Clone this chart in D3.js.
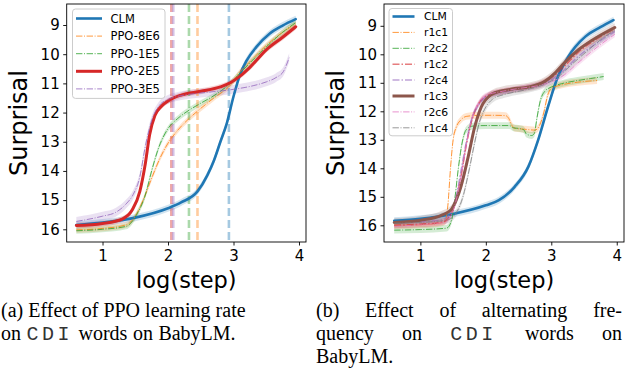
<!DOCTYPE html>
<html>
<head>
<meta charset="utf-8">
<script src="https://cdn.jsdelivr.net/npm/d3@7/dist/d3.min.js"></script>
<style>
  body { margin: 0; background: #fff; }
  svg { display: block; }
</style>
</head>
<body>
<svg id="fig" width="625" height="375"></svg>
<script>
// panel (a): effect of PPO learning rate -- log(step) vs surprisal
const stepA_clm = [0.6, 1.0, 1.5, 2.0, 2.2, 2.45, 2.6, 2.7, 2.8, 2.9, 3.0, 3.1, 3.2, 3.35, 3.55, 3.75, 3.95];
const surpA_clm = [15.85, 15.77, 15.6, 15.28, 15.08, 14.7, 14.15, 13.65, 13.0, 12.35, 11.45, 10.7, 10.22, 9.75, 9.3, 9.02, 8.8];

const stepA_8e6 = [0.6, 1.0, 1.36, 1.5, 1.62, 1.75, 1.87, 2.0, 2.15, 2.3, 2.45, 2.7, 2.95, 3.1, 3.25, 3.5, 3.75, 3.95];
const surpA_8e6 = [16.02, 15.97, 15.85, 15.55, 15.0, 14.25, 13.6, 13.05, 12.6, 12.25, 11.95, 11.5, 11.06, 10.6, 10.26, 9.7, 9.25, 8.96];

const stepA_1e5 = [0.6, 1.0, 1.36, 1.52, 1.65, 1.75, 1.85, 2.0, 2.15, 2.32, 2.5, 2.75, 2.95, 3.1, 3.25, 3.5, 3.75, 3.95];
const surpA_1e5 = [16.05, 16.0, 15.9, 15.5, 14.85, 14.0, 13.25, 12.55, 12.2, 11.92, 11.68, 11.35, 11.0, 10.65, 10.3, 9.75, 9.25, 8.92];

const stepA_2e5 = [0.6, 1.0, 1.3, 1.45, 1.57, 1.65, 1.72, 1.8, 1.9, 2.0, 2.2, 2.5, 2.8, 2.95, 3.1, 3.25, 3.5, 3.75, 3.95];
const surpA_2e5 = [15.87, 15.8, 15.65, 15.35, 14.7, 13.8, 12.75, 12.1, 11.78, 11.6, 11.4, 11.27, 11.12, 10.98, 10.75, 10.45, 9.85, 9.42, 9.06];

const stepA_3e5 = [0.6, 1.0, 1.2, 1.36, 1.47, 1.57, 1.65, 1.75, 1.87, 2.0, 2.2, 2.5, 2.95, 3.3, 3.5, 3.65, 3.76, 3.85];
const surpA_3e5 = [15.73, 15.55, 15.42, 15.13, 14.8, 14.2, 13.2, 12.27, 11.75, 11.55, 11.42, 11.33, 11.22, 11.08, 10.95, 10.8, 10.6, 10.12];

const namesA = ["CLM", "PPO-8E6", "PPO-1E5", "PPO-2E5", "PPO-3E5"];
const bandA = [0.12, 0.1, 0.1, 0.1, 0.15];
// converged step (log) per run, dashed verticals
const convStepA = [2.93, 2.45, 2.32, 2.05, 2.08];

// panel (b): effect of alternating frequency
const stepB_clm = [0.6, 1.0, 1.5, 2.0, 2.2, 2.44, 2.65, 2.8, 2.95, 3.1, 3.26, 3.52, 3.75, 3.95];
const surpB_clm = [15.84, 15.77, 15.6, 15.3, 15.12, 14.65, 13.94, 13.0, 11.84, 10.79, 10.08, 9.38, 9.05, 8.8];

const stepB_r1c1 = [0.6, 1.0, 1.3, 1.38, 1.42, 1.46, 1.5, 1.55, 1.62, 1.7, 1.9, 2.1, 2.3, 2.35, 2.4, 2.45, 2.6, 2.75, 2.82, 2.88, 2.95, 3.0, 3.15, 3.4, 3.7];
const surpB_r1c1 = [16.0, 15.98, 15.92, 15.85, 15.3, 14.0, 13.0, 12.55, 12.3, 12.18, 12.14, 12.14, 12.15, 12.25, 12.5, 12.6, 12.63, 12.66, 12.5, 12.1, 11.4, 11.2, 11.08, 10.98, 10.92];

const stepB_r2c2 = [0.6, 1.0, 1.4, 1.48, 1.53, 1.58, 1.63, 1.7, 1.8, 2.0, 2.2, 2.36, 2.42, 2.5, 2.58, 2.62, 2.7, 2.74, 2.78, 2.83, 2.9, 3.0, 3.16, 3.4, 3.6, 3.8];
const surpB_r2c2 = [16.17, 16.15, 16.1, 15.8, 15.0, 14.0, 13.2, 12.65, 12.52, 12.5, 12.5, 12.5, 12.58, 12.6, 12.65, 12.8, 12.85, 12.78, 12.25, 11.65, 11.3, 11.15, 11.03, 10.92, 10.85, 10.78];

const stepB_r1c2 = [0.6, 1.0, 1.35, 1.47, 1.55, 1.62, 1.7, 1.8, 1.9, 2.05, 2.25, 2.5, 2.8, 3.0, 3.2, 3.4, 3.7, 3.97];
const surpB_r1c2 = [16.0, 15.96, 15.88, 15.6, 15.05, 14.3, 13.2, 12.2, 11.7, 11.42, 11.3, 11.2, 11.05, 10.82, 10.42, 9.95, 9.45, 9.1];

const stepB_r2c4 = [0.6, 1.0, 1.35, 1.47, 1.55, 1.62, 1.7, 1.78, 1.88, 2.0, 2.25, 2.5, 2.8, 3.0, 3.2, 3.4, 3.7, 3.97];
const surpB_r2c4 = [15.92, 15.88, 15.8, 15.5, 14.95, 14.1, 13.1, 12.3, 11.8, 11.5, 11.33, 11.22, 11.08, 10.9, 10.55, 10.1, 9.6, 9.2];

const stepB_r1c3 = [0.6, 1.0, 1.32, 1.47, 1.55, 1.62, 1.73, 1.83, 1.93, 2.08, 2.25, 2.4, 2.65, 2.9, 3.06, 3.2, 3.41, 3.7, 3.97];
const surpB_r1c3 = [15.9, 15.82, 15.65, 15.45, 15.1, 14.64, 13.6, 12.55, 11.85, 11.42, 11.28, 11.22, 11.15, 10.95, 10.65, 10.3, 9.85, 9.4, 9.06];

const stepB_r2c6 = [0.6, 1.0, 1.35, 1.48, 1.56, 1.63, 1.7, 1.78, 1.88, 2.0, 2.25, 2.5, 2.8, 3.0, 3.2, 3.4, 3.7, 3.97];
const surpB_r2c6 = [16.03, 15.98, 15.9, 15.6, 15.0, 14.2, 13.2, 12.3, 11.75, 11.45, 11.3, 11.2, 11.1, 10.97, 10.72, 10.32, 9.75, 9.3];

const stepB_r1c4 = [0.6, 1.0, 1.4, 1.55, 1.65, 1.75, 1.82, 1.9, 2.0, 2.1, 2.3, 2.6, 2.9, 3.1, 3.3, 3.5, 3.75, 3.97];
const surpB_r1c4 = [15.93, 15.9, 15.82, 15.55, 15.0, 14.0, 13.2, 12.4, 11.85, 11.58, 11.4, 11.25, 11.05, 10.8, 10.38, 9.98, 9.5, 9.15];

const namesB = ["CLM", "r1c1", "r2c2", "r1c2", "r2c4", "r1c3", "r2c6", "r1c4"];
const bandB = [0.12, 0.12, 0.12, 0.1, 0.1, 0.15, 0.1, 0.12];

const yTicks = [9, 10, 11, 12, 13, 14, 15, 16];
const xTicks = [1, 2, 3, 4];

// ---- styles ----
const tab = {blue: "#1f77b4", orange: "#ff7f0e", green: "#2ca02c", red: "#d62728",
             purple: "#9467bd", brown: "#8c564b", pink: "#e377c2", gray: "#7f7f7f"};
const SOLID = {w: 2.6, dash: null, op: 1};
const THICK = {w: 3, dash: null, op: 1};
const DD1 = {w: 1, dash: "6.4,1.6,1,1.6", op: 0.8};
const DD2 = {w: 1.5, dash: "7,2,1.5,2", op: 0.6};

const zip = (xs, ys) => xs.map((x, i) => ({x: x, y: ys[i]}));

var seriesA = [
  {name: namesA[0], pts: zip(stepA_clm, surpA_clm), band: bandA[0], color: tab.blue, st: SOLID},
  {name: namesA[1], pts: zip(stepA_8e6, surpA_8e6), band: bandA[1], color: tab.orange, st: DD1},
  {name: namesA[2], pts: zip(stepA_1e5, surpA_1e5), band: bandA[2], color: tab.green, st: DD1},
  {name: namesA[3], pts: zip(stepA_2e5, surpA_2e5), band: bandA[3], color: tab.red, st: THICK},
  {name: namesA[4], pts: zip(stepA_3e5, surpA_3e5), band: bandA[4], color: tab.purple, st: DD1}
];
var seriesB = [
  {name: namesB[0], pts: zip(stepB_clm, surpB_clm), band: bandB[0], color: tab.blue, st: SOLID},
  {name: namesB[1], pts: zip(stepB_r1c1, surpB_r1c1), band: bandB[1], color: tab.orange, st: DD1},
  {name: namesB[2], pts: zip(stepB_r2c2, surpB_r2c2), band: bandB[2], color: tab.green, st: DD1},
  {name: namesB[3], pts: zip(stepB_r1c2, surpB_r1c2), band: bandB[3], color: tab.red, st: DD2},
  {name: namesB[4], pts: zip(stepB_r2c4, surpB_r2c4), band: bandB[4], color: tab.purple, st: DD2},
  {name: namesB[5], pts: zip(stepB_r1c3, surpB_r1c3), band: bandB[5], color: tab.brown, st: THICK},
  {name: namesB[6], pts: zip(stepB_r2c6, surpB_r2c6), band: bandB[6], color: tab.pink, st: DD1},
  {name: namesB[7], pts: zip(stepB_r1c4, surpB_r1c4), band: bandB[7], color: tab.gray, st: DD1}
];
var vlinesA = convStepA.map((s, i) => ({x: s, color: seriesA[i].color}));

var svg = d3.select("#fig");
var FONT = "DejaVu Sans, sans-serif";

function panel(id, box, xDom, yDom, series, vlines, leg) {
  var x = d3.scaleLinear().domain(xDom).range([box.x0, box.x1]);
  var y = d3.scaleLinear().domain(yDom).range([box.y0, box.y1]);
  var g = svg.append("g").attr("id", id);

  g.append("clipPath").attr("id", id + "-clip")
    .append("rect")
    .attr("x", box.x0).attr("y", box.y0)
    .attr("width", box.x1 - box.x0).attr("height", box.y1 - box.y0);
  var plot = g.append("g").attr("clip-path", "url(#" + id + "-clip)");

  var line = d3.line().x(d => x(d.x)).y(d => y(d.y)).curve(d3.curveMonotoneX);
  var area = d3.area().x(d => x(d.x))
    .y0(d => y(d.y - d.b)).y1(d => y(d.y + d.b)).curve(d3.curveMonotoneX);

  plot.selectAll(".band").data(series).enter().append("path")
    .attr("class", "band")
    .attr("d", s => area(s.pts.map(p => ({x: p.x, y: p.y, b: s.band}))))
    .attr("fill", s => s.color).attr("fill-opacity", 0.2);

  plot.selectAll(".vline").data(vlines).enter().append("line")
    .attr("class", "vline")
    .attr("x1", d => x(d.x)).attr("x2", d => x(d.x))
    .attr("y1", box.y0).attr("y2", box.y1)
    .attr("stroke", d => d.color).attr("stroke-width", 2.6)
    .attr("stroke-opacity", 0.4).attr("stroke-dasharray", "8,4");

  plot.selectAll(".curve").data(series).enter().append("path")
    .attr("class", "curve")
    .attr("d", s => line(s.pts))
    .attr("fill", "none")
    .attr("stroke", s => s.color)
    .attr("stroke-width", s => s.st.w)
    .attr("stroke-opacity", s => s.st.op)
    .attr("stroke-dasharray", s => s.st.dash)
    .attr("stroke-linecap", s => s.st.dash ? "butt" : "round");

  // axes
  var ya = g.append("g").attr("transform", `translate(${box.x0},0)`)
    .call(d3.axisLeft(y).tickValues(yTicks).tickSize(3.5).tickPadding(3.5).tickFormat(d3.format("d")));
  var xa = g.append("g").attr("transform", `translate(0,${box.y1})`)
    .call(d3.axisBottom(x).tickValues(xTicks).tickSize(3.5).tickPadding(5).tickFormat(d3.format("d")));
  [ya, xa].forEach(a => {
    a.select(".domain").remove();
    a.selectAll("line").attr("stroke", "#000").attr("stroke-width", 0.9);
    a.selectAll("text").attr("font-family", FONT).attr("font-size", 15).attr("fill", "#000");
  });

  g.append("rect")
    .attr("x", box.x0).attr("y", box.y0)
    .attr("width", box.x1 - box.x0).attr("height", box.y1 - box.y0)
    .attr("fill", "none").attr("stroke", "#000").attr("stroke-width", 0.9);

  g.append("text")
    .attr("transform", `translate(${box.x0 - 40},${(box.y0 + box.y1) / 2}) rotate(-90)`)
    .attr("text-anchor", "middle")
    .attr("font-family", FONT).attr("font-size", 24)
    .text("Surprisal");
  g.append("text")
    .attr("x", (box.x0 + box.x1) / 2).attr("y", 288)
    .attr("text-anchor", "middle")
    .attr("font-family", FONT).attr("font-size", 22.5)
    .text("log(step)");

  // legend
  var lg = g.append("g");
  lg.append("rect")
    .attr("x", leg.x).attr("y", leg.y).attr("width", leg.w)
    .attr("height", leg.pad * 2 + leg.row * (series.length - 1))
    .attr("rx", 3).attr("fill", "#fff").attr("fill-opacity", 0.85)
    .attr("stroke", "#ccc").attr("stroke-width", 1);
  var item = lg.selectAll(".item").data(series).enter().append("g")
    .attr("transform", (d, i) => `translate(${leg.x},${leg.y + leg.pad + i * leg.row})`);
  item.append("line")
    .attr("x1", 3.5).attr("x2", 3.5 + leg.len).attr("y1", 0).attr("y2", 0)
    .attr("stroke", s => s.color)
    .attr("stroke-width", s => s.st.w)
    .attr("stroke-opacity", s => s.st.op)
    .attr("stroke-dasharray", s => s.st.dash);
  item.append("text")
    .attr("x", leg.tx).attr("y", 0).attr("dy", "0.36em")
    .attr("font-family", FONT).attr("font-size", leg.fs)
    .text(s => s.name);
}

panel("pa", {x0: 66.7, x1: 306, y0: 4, y1: 242}, [0.453, 4.107], [8.28, 16.435],
  seriesA, vlinesA, {x: 72.5, y: 9, w: 92.5, pad: 9.5, row: 17.6, len: 26, tx: 38, fs: 11.5});
panel("pb", {x0: 384, x1: 624, y0: 4, y1: 242}, [0.444, 4.111], [8.235, 16.586],
  seriesB, [], {x: 389, y: 8.5, w: 63.5, pad: 8, row: 15.9, len: 22, tx: 35, fs: 10.8});

// ---- captions (serif, CDI set in typewriter) ----
var SERIF = "Liberation Serif, Times New Roman, serif";
var MONO = "Liberation Mono, Courier New, monospace";
var cap = svg.append("g").attr("fill", "#000");

function words(parts, x0, x1, y, gap) {
  var nodes = parts.map(p => cap.append("text")
    .attr("y", y)
    .attr("font-family", p.mono ? MONO : SERIF)
    .attr("font-size", 20)
    .attr("letter-spacing", p.mono ? 3.5 : null)
    .attr("fill", p.mono ? "#333" : "#000")
    .text(p.t));
  var widths = nodes.map(n => n.node().getComputedTextLength());
  var total = d3.sum(widths);
  var g2 = gap != null ? gap : (x1 - x0 - total) / (parts.length - 1);
  var cx = x0;
  nodes.forEach((n, i) => { n.attr("x", cx); cx += widths[i] + g2; });
}
var W = t => t.split(" ").map(s => ({t: s}));

words(W("(a) Effect of PPO learning rate"), 1, 0, 317, 5);
words([{t: "on"}, {t: "CDI", mono: true}, {t: "words"}, {t: "on"}, {t: "BabyLM."}], 1, 0, 340, 5.5);

words(W("(b) Effect of alternating fre-"), 316, 622, 317, null);
words([{t: "quency"}, {t: "on"}, {t: "CDI", mono: true}, {t: "words"}, {t: "on"}], 316, 622, 340, null);
words(W("BabyLM."), 316, 0, 363, 5);
</script>
</body>
</html>
